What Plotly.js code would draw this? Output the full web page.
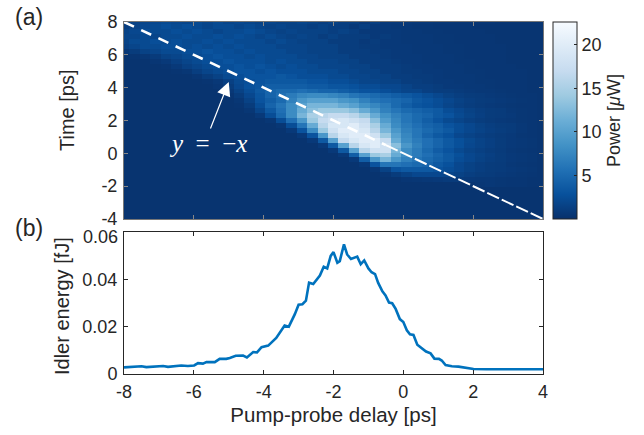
<!DOCTYPE html>
<html><head><meta charset="utf-8">
<script src="https://cdn.plot.ly/plotly-3.0.1.min.js"></script>
<style>html,body{margin:0;padding:0;background:#fff}#c{width:644px;height:435px}</style>
</head><body><div id="c"></div>
<script>
const delayGrid=[-8,-7.7,-7.4,-7.1,-6.8,-6.5,-6.2,-5.9,-5.6,-5.3,-5,-4.7,-4.4,-4.1,-3.8,-3.5,-3.2,-2.9,-2.6,-2.3,-2,-1.7,-1.4,-1.1,-.8,-.5,-.2,.1,.4,.7,1,1.3,1.6,1.9,2.2,2.5,2.8,3.1,3.4,3.7,4];
const timeGrid=[8,7.7,7.4,7.1,6.8,6.5,6.2,5.9,5.6,5.3,5,4.7,4.4,4.1,3.8,3.5,3.2,2.9,2.6,2.3,2,1.7,1.4,1.1,.8,.5,.2,-.1,-.4,-.7,-1,-1.3,-1.6,-1.9,-2.2,-2.5,-2.8,-3.1,-3.4,-3.7,-4];
const power=[
[1.2,1.5,1.8,2,2.2,2,1.8,2.2,1.8,2.2,1.8,2,1.8,1.5,1.8,1.5,1.5,1.8,1.5,1.2,1.5,1.2,1.2,.8,1.2,.8,.8,.8,.7,.7,.6,.6,.5,.5,.5,.5,.4,.4,.4,.4,.4],
[1.2,1.6,2,2.2,2.6,2.2,2.6,2.2,1.8,2.2,2.2,1.8,2.2,1.8,1.5,1.8,1.5,1.5,1.2,1.5,1.2,1.2,.8,1.2,.8,.8,.7,.7,.6,.6,.5,.5,.5,.5,.4,.4,.4,.4,.4,.4,.4],
[1.6,2,2.4,2.2,2.2,2.6,2.2,2.6,2.2,1.8,2.2,2.2,2.6,2.2,1.8,1.5,1.8,1.5,1.5,1.5,1.2,1.5,1.2,.8,.8,.8,.8,.7,.7,.6,.6,.5,.5,.5,.5,.4,.4,.4,.4,.4,.4],
[1.8,1.8,2.2,1.8,2.2,2.2,2.6,2.2,2.2,2.6,2.2,2.6,2.2,1.8,2.2,1.8,1.5,1.8,1.5,1.1,1.5,1.1,1.1,1.1,.8,1,.8,.7,.7,.7,.6,.6,.5,.5,.5,.5,.4,.4,.4,.4,.4],
[1.6,2.2,2.2,2.6,2.2,2.6,2.2,2.2,2.6,2.2,2.6,2.2,2.2,2.2,1.8,2.2,1.8,1.5,1.5,1.5,1.1,1.1,1.1,.8,1,.8,.8,.7,.7,.7,.6,.6,.5,.5,.5,.5,.4,.4,.4,.4,.4],
[1.4,1.8,2.2,2.2,2.6,2.6,2.2,2.6,2.2,2.6,2.2,2.6,2.2,2.2,2.2,1.8,1.8,1.8,1.5,1.5,1.5,1.1,1.1,.9,.9,.8,.8,.8,.7,.7,.7,.6,.6,.5,.5,.5,.5,.4,.4,.4,.4],
[.7,1,1.5,1.8,2.2,2.2,2.6,2.6,3,2.6,2.6,2.2,2.6,2.2,2.2,2.2,1.8,1.8,1.5,1.5,1.5,1.1,1.1,1.1,.9,.9,.8,.8,.7,.7,.7,.6,.6,.5,.5,.5,.5,.4,.4,.4,.4],
[.3,.4,.6,.9,1.5,1.8,2.2,2.2,2.6,3,2.6,2.6,2.2,2.6,2.2,2.2,2.2,1.8,1.8,1.5,1.5,1.5,1.1,1.1,1.1,.9,.8,.8,.8,.7,.7,.7,.6,.5,.5,.5,.5,.4,.4,.4,.4],
[.3,.3,.3,.5,.8,1.3,1.8,2.2,2.6,2.6,3,2.6,2.6,2.6,2.2,2.6,2.2,2.2,1.8,1.8,1.8,1.5,1.5,1.1,1.1,1.1,.9,.8,.8,.7,.7,.7,.6,.6,.5,.5,.5,.4,.4,.4,.4],
[.3,.3,.3,.3,.4,.8,1.4,1.8,2.2,2.6,2.6,3,2.6,3,2.6,2.2,2.6,2.2,2.2,1.8,1.8,1.8,1.5,1.5,1.1,1.1,1.1,.9,.8,.8,.7,.7,.7,.6,.5,.5,.5,.5,.4,.4,.4],
[.3,.3,.3,.3,.3,.4,.6,1.2,1.8,2.2,2.6,3,3,2.6,3,2.6,2.6,2.6,2.2,2.2,2.2,1.8,1.8,1.5,1.5,1.1,1.1,.9,.9,.8,.8,.7,.7,.6,.6,.5,.5,.5,.5,.4,.4],
[.3,.3,.3,.3,.3,.3,.3,.5,1,1.5,2.2,2.6,3,3,3,3.4,3,2.6,2.6,2.6,2.2,2.2,1.8,1.8,1.5,1.5,1.1,1.1,.9,.9,.8,.7,.7,.7,.6,.5,.5,.5,.5,.4,.4],
[.3,.3,.3,.3,.3,.3,.3,.3,.4,.7,1.4,2.2,2.6,3,3.4,3.4,3.4,3.4,3,3,2.6,2.6,2.2,1.8,1.8,1.5,1.5,1.1,1.1,.9,.8,.8,.7,.7,.6,.6,.5,.5,.5,.4,.4],
[.3,.3,.3,.3,.3,.3,.3,.3,.3,.5,1,2,2.8,3.2,4,4,4,4,3.6,3.6,3.2,3.2,2.8,2.4,2.4,2,2,1.6,1.2,1.2,1,.8,.8,.7,.7,.6,.5,.5,.5,.4,.4],
[.3,.3,.3,.3,.3,.3,.3,.3,.3,.3,.7,1.5,2.5,3.5,4.5,5,5,5.5,5,4.5,4.5,4,3.5,3,3,2.6,2.2,1.8,1.8,1.3,1.1,1.1,.9,.8,.7,.7,.6,.5,.5,.4,.4],
[.3,.3,.3,.3,.3,.3,.3,.3,.3,.3,.4,1,2,3.2,4.5,5.5,6.5,7.5,8,8,7.5,7,6,5.5,5,4.5,4,3.5,3,2.5,2,1.5,1.2,1,.9,.8,.7,.6,.5,.5,.4],
[.3,.3,.3,.3,.3,.3,.3,.3,.3,.3,.3,.6,1.5,3,4,5,7,9,10,10,10,9,8.5,7,6,5.5,5,4.5,3.5,3,2.5,2,1.5,1.2,1,.9,.8,.7,.6,.5,.4],
[.3,.3,.3,.3,.3,.3,.3,.3,.3,.3,.3,.4,1,2.5,4.5,6,8,10,12,12,12,11,10,8.5,7.5,6.5,5,4,3.2,2.8,2.4,1.8,1.4,1.1,.9,.8,.7,.6,.5,.5,.4],
[.3,.3,.3,.3,.3,.3,.3,.3,.3,.3,.3,.3,.6,1.8,3.5,5.5,8,11,13,14,14,14,13,11,9,7,6,5,4.5,4,3.5,2.5,2,1.5,1.2,1,.9,.7,.6,.5,.4],
[.3,.3,.3,.3,.3,.3,.3,.3,.3,.3,.3,.3,.3,.8,2.5,5,8,12,15,16,17,17,16,14,11,8.5,7,6,5,4.5,3.5,3,2.2,1.7,1.3,1,.9,.8,.6,.5,.4],
[.3,.3,.3,.3,.3,.3,.3,.3,.3,.3,.3,.3,.3,.3,.6,2.5,5.5,9,14,17,18,19,18,17,13,9.5,7.5,6,5,4,3,2.2,1.8,1.4,1.1,.9,.8,.7,.6,.5,.4],
[.3,.3,.3,.3,.3,.3,.3,.3,.3,.3,.3,.3,.3,.3,.3,.6,2.5,6,11,16,19,19,20,18,15,11,8,6.5,5.5,4.5,4,3,2.5,2,1.5,1.2,1,.9,.7,.5,.4],
[.3,.3,.3,.3,.3,.3,.3,.3,.3,.3,.3,.3,.3,.3,.3,.3,.8,3,8,14,18,20,20,19,16,12,9,7,6,5,4.2,3.5,2.5,2,1.6,1.3,1.1,.9,.7,.5,.4],
[.3,.3,.3,.3,.3,.3,.3,.3,.3,.3,.3,.3,.3,.3,.3,.3,.3,.8,3,9,16,19,20,20,18,14,10,7.5,6,4.5,3.5,2.8,2,1.6,1.3,1.1,.9,.8,.6,.5,.4],
[.3,.3,.3,.3,.3,.3,.3,.3,.3,.3,.3,.3,.3,.3,.3,.3,.3,.3,.8,3.5,10,17,19,20,20,17,11,8,6.5,5.5,4.5,3.5,2.7,2.1,1.6,1.3,1,.8,.7,.6,.4],
[.3,.3,.3,.3,.3,.3,.3,.3,.3,.3,.3,.3,.3,.3,.3,.3,.3,.3,.3,.8,3.5,10,16,19,20,18,13,9,7,5.5,4.5,3.5,2.7,2,1.6,1.3,1,.8,.7,.6,.4],
[.3,.3,.3,.3,.3,.3,.3,.3,.3,.3,.3,.3,.3,.3,.3,.3,.3,.3,.3,.3,.8,3.5,10,16,18,18,12,8,6.5,5,3.8,3,2.2,1.7,1.4,1.1,.9,.7,.6,.5,.4],
[.3,.3,.3,.3,.3,.3,.3,.3,.3,.3,.3,.3,.3,.3,.3,.3,.3,.3,.3,.3,.3,.8,4,10,14,15,11,8,6.5,5.5,4.5,3.5,2.7,2,1.6,1.3,1,.8,.7,.6,.4],
[.3,.3,.3,.3,.3,.3,.3,.3,.3,.3,.3,.3,.3,.3,.3,.3,.3,.3,.3,.3,.3,.3,.8,4,9,12,9,7,6,5,4.2,3.5,2.5,2,1.5,1.2,1,.8,.7,.6,.4],
[.3,.3,.3,.3,.3,.3,.3,.3,.3,.3,.3,.3,.3,.3,.3,.3,.3,.3,.3,.3,.3,.3,.3,.7,3,6,6,5.5,5,4.5,3.5,2.8,2,1.5,1.2,1,.9,.7,.6,.5,.4],
[.3,.3,.3,.3,.3,.3,.3,.3,.3,.3,.3,.3,.3,.3,.3,.3,.3,.3,.3,.3,.3,.3,.3,.3,.6,1.5,3,3.5,3.5,3.5,3,2.5,2,1.5,1.2,1,.9,.8,.7,.6,.4],
[.3,.3,.3,.3,.3,.3,.3,.3,.3,.3,.3,.3,.3,.3,.3,.3,.3,.3,.3,.3,.3,.3,.3,.3,.3,.5,1,1.5,2,2,2,1.8,1.5,1.2,1,.9,.8,.7,.6,.5,.4],
[.3,.3,.3,.3,.3,.3,.3,.3,.3,.3,.3,.3,.3,.3,.3,.3,.3,.3,.3,.3,.3,.3,.3,.3,.3,.3,.3,.5,.6,.7,.8,.9,.9,.8,.7,.7,.6,.5,.5,.4,.4],
[.3,.3,.3,.3,.3,.3,.3,.3,.3,.3,.3,.3,.3,.3,.3,.3,.3,.3,.3,.3,.3,.3,.3,.3,.3,.3,.3,.3,.3,.3,.3,.3,.3,.4,.6,.7,.6,.5,.5,.4,.4],
[.3,.3,.3,.3,.3,.3,.3,.3,.3,.3,.3,.3,.3,.3,.3,.3,.3,.3,.3,.3,.3,.3,.3,.3,.3,.3,.3,.3,.3,.3,.3,.3,.3,.3,.3,.3,.3,.3,.3,.3,.3],
[.3,.3,.3,.3,.3,.3,.3,.3,.3,.3,.3,.3,.3,.3,.3,.3,.3,.3,.3,.3,.3,.3,.3,.3,.3,.3,.3,.3,.3,.3,.3,.3,.3,.3,.3,.3,.3,.3,.3,.3,.3],
[.3,.3,.3,.3,.3,.3,.3,.3,.3,.3,.3,.3,.3,.3,.3,.3,.3,.3,.3,.3,.3,.3,.3,.3,.3,.3,.3,.3,.3,.3,.3,.3,.3,.3,.3,.3,.3,.3,.3,.3,.3],
[.3,.3,.3,.3,.3,.3,.3,.3,.3,.3,.3,.3,.3,.3,.3,.3,.3,.3,.3,.3,.3,.3,.3,.3,.3,.3,.3,.3,.3,.3,.3,.3,.3,.3,.3,.3,.3,.3,.3,.3,.3],
[.3,.3,.3,.3,.3,.3,.3,.3,.3,.3,.3,.3,.3,.3,.3,.3,.3,.3,.3,.3,.3,.3,.3,.3,.3,.3,.3,.3,.3,.3,.3,.3,.3,.3,.3,.3,.3,.3,.3,.3,.3],
[.3,.3,.3,.3,.3,.3,.3,.3,.3,.3,.3,.3,.3,.3,.3,.3,.3,.3,.3,.3,.3,.3,.3,.3,.3,.3,.3,.3,.3,.3,.3,.3,.3,.3,.3,.3,.3,.3,.3,.3,.3],
[.3,.3,.3,.3,.3,.3,.3,.3,.3,.3,.3,.3,.3,.3,.3,.3,.3,.3,.3,.3,.3,.3,.3,.3,.3,.3,.3,.3,.3,.3,.3,.3,.3,.3,.3,.3,.3,.3,.3,.3,.3]
];
const delayPs=[-8,-7.84,-7.69,-7.5,-7.36,-7.17,-6.98,-6.88,-6.74,-6.5,-6.36,-6.17,-5.99,-5.88,-5.74,-5.64,-5.4,-5.26,-5.07,-4.97,-4.8,-4.59,-4.48,-4.3,-4.19,-4.06,-3.87,-3.64,-3.49,-3.4,-3.28,-3.11,-3,-2.89,-2.79,-2.7,-2.58,-2.39,-2.28,-2.18,-2.08,-2,-1.89,-1.82,-1.7,-1.61,-1.5,-1.32,-1.22,-1.12,-1,-.91,-.81,-.72,-.6,-.51,-.41,-.32,-.22,-.1,0,.1,.19,.29,.4,.53,.65,.78,.89,1.02,1.1,1.21,1.39,1.58,1.82,2.01,2.39,3,4];
const idlerEnergy=[2.8,3,2.9,3.3,2.9,3.1,3,3.4,3,3.3,3.6,3.4,3.6,4.6,4.4,5,5,6.4,6.4,6.8,7.7,7.8,7,9.3,9.1,11.3,12,15.2,18.8,20.5,20,25.2,29.3,29.5,31,38.6,38,41.6,45.3,44.6,49.9,51.5,47,47.7,54.8,50.5,48.6,49.6,46.4,48,44.6,43,42.2,38.5,34.9,33.2,30.2,29.9,27.5,23.2,22,18.5,16.8,16.5,12.4,11,9.5,8.7,6.5,6.4,5.7,3.8,3.3,3.1,2.4,2.1,2,2,2];
const dashedX=[-8,-.5], dashedY=[8,.5], tightX=[-.5,4], tightY=[.5,-4];
const xTicks=[-8,-6,-4,-2,0,2,4], xLabels=['-8','-6','-4','-2','0','2','4'];
const yTicks=[-4,-2,0,2,4,6,8], yLabels=['-4','-2','0','2','4','6','8'];
const eTicks=[0,.02,.04,.06], eLabels=['0','0.02','0.04',''], eTopLabel='0.06';
const blues=[[0,'#08306b'],[.125,'#08519c'],[.25,'#2171b5'],[.375,'#4292c6'],[.5,'#6baed6'],[.625,'#9ecae1'],[.75,'#c6dbef'],[.875,'#deebf7'],[1,'#f7fbff']];
const W=644,H=435, F='"Liberation Sans",Arial,sans-serif', INK='#262626';
const px=(a,b)=>[a/W,b/W], py=(t,b)=>[1-b/H,1-t/H];
const traces=[
 {type:'heatmap',x:delayGrid,y:timeGrid.slice().reverse(),z:power.slice().reverse(),zmin:0,zmax:22.6,colorscale:blues,zsmooth:false,xaxis:'x',yaxis:'y',
  colorbar:{x:553/W,xanchor:'left',xpad:0,ypad:0,y:1-219/H,yanchor:'bottom',len:197/H,lenmode:'fraction',thickness:24,thicknessmode:'pixels',
   outlinecolor:INK,outlinewidth:1,tickvals:[5,10,15,20],ticks:'inside',ticklen:3,tickcolor:INK,tickfont:{family:F,size:18,color:INK},
   title:{text:'Power [<i>μ</i>W]',side:'right',font:{family:F,size:18,color:INK}}}},
 {type:'scatter',mode:'lines',x:dashedX,y:dashedY,xaxis:'x',yaxis:'y',line:{color:'#fff',width:2.6,dash:'11px,8px'},hoverinfo:'skip',showlegend:false},
 {type:'scatter',mode:'lines',x:tightX,y:tightY,xaxis:'x',yaxis:'y',line:{color:'#fff',width:2,dash:'13px,3px'},hoverinfo:'skip',showlegend:false},
 {type:'scatter',mode:'lines',x:delayPs,y:idlerEnergy.map(v=>v/1000),xaxis:'x2',yaxis:'y2',line:{color:'#0072bd',width:2.6},hoverinfo:'skip',showlegend:false}
];
const axisBase={ticks:'inside',ticklen:4,tickwidth:1,tickcolor:INK,linecolor:INK,linewidth:1,showline:true,mirror:'ticks',showgrid:false,zeroline:false,tickmode:'array',tickfont:{family:F,size:18,color:INK}};
const layout={width:W,height:H,margin:{l:0,r:0,t:0,b:0},paper_bgcolor:'#fff',plot_bgcolor:'#fff',showlegend:false,font:{family:F,color:INK},
 xaxis:{...axisBase,domain:px(124,543),range:[-8,4],tickvals:xTicks,ticktext:xLabels,showticklabels:false,anchor:'y',tickcolor:'#888',linecolor:'#777'},
 yaxis:{...axisBase,domain:py(22,219),range:[-4,8],tickvals:yTicks,ticktext:yLabels,anchor:'x',tickcolor:'#888',linecolor:'#777',ticklabelstandoff:2},
 xaxis2:{...axisBase,domain:px(124,543),range:[-8,4],tickvals:xTicks,ticktext:xLabels,anchor:'y2',ticklabelstandoff:1,
   title:{text:'Pump-probe delay [ps]',font:{family:F,size:20.5,color:INK},standoff:7}},
 yaxis2:{...axisBase,domain:py(232,374),range:[0,.06],tickvals:eTicks,ticktext:eLabels,anchor:'x2',ticklabelstandoff:2},
 annotations:[
  {xref:'paper',yref:'paper',x:67/W,y:1-110/H,xanchor:'center',yanchor:'middle',text:'Time [ps]',textangle:-90,showarrow:false,font:{family:F,size:20,color:INK}},
  {xref:'paper',yref:'paper',x:62/W,y:1-306/H,xanchor:'center',yanchor:'middle',text:'Idler energy [fJ]',textangle:-90,showarrow:false,font:{family:F,size:20,color:INK}},
  {xref:'paper',yref:'paper',x:29/W,y:1-17/H,xanchor:'center',yanchor:'middle',text:'(a)',showarrow:false,font:{family:F,size:23,color:INK}},
  {xref:'paper',yref:'paper',x:29/W,y:1-228/H,xanchor:'center',yanchor:'middle',text:'(b)',showarrow:false,font:{family:F,size:23,color:INK}},
  {xref:'paper',yref:'paper',x:118.5/W,y:1-237/H,xanchor:'right',yanchor:'middle',text:eTopLabel,showarrow:false,borderpad:0,font:{family:F,size:18,color:INK}},
  {xref:'x',yref:'y',x:-5.6,y:.6,xanchor:'center',yanchor:'middle',text:'<i>y</i>&nbsp;&nbsp;=&nbsp;&nbsp;−<i>x</i>',showarrow:false,font:{family:'"Liberation Serif",serif',size:25,color:'#fff'}},
  {xref:'x',yref:'y',axref:'x',ayref:'y',x:-5,y:4.35,ax:-5.54,ay:1.42,text:'',showarrow:true,arrowcolor:'#fff',arrowwidth:1.2,arrowhead:2,arrowsize:2.3}
 ]};
Plotly.newPlot('c',traces,layout,{displayModeBar:false,staticPlot:true});
</script></body></html>
